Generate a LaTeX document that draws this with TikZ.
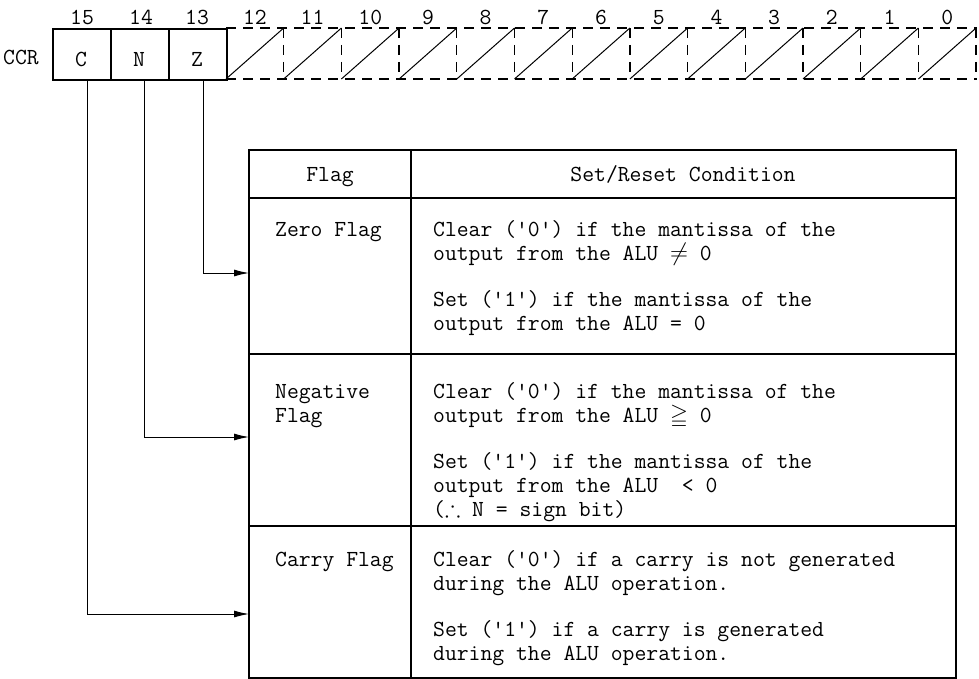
\documentclass[tikz,border=0pt]{standalone}
\usepackage{fontspec}
\usepackage{amssymb}
\usetikzlibrary{arrows.meta}
\begin{document}
\begin{tikzpicture}[x=1pt,y=-1pt,
  every node/.style={font=\ttfamily\fontsize{23}{24}\selectfont, inner sep=0pt},
  txt/.style={anchor=base west, align=left},
  num/.style={anchor=base},
  regbox/.style={draw, line width=1.6pt, minimum width=58pt, minimum height=51pt, anchor=north west},
  dashline/.style={line width=1.3pt, dash pattern=on 10pt off 7pt},
  diag/.style={line width=1pt},
  tab/.style={line width=1.4pt},
  arr/.style={line width=1pt, -{Latex[length=15pt,width=7pt]}}
]
\useasboundingbox (0,0) rectangle (979,679);

% register
\node[anchor=base west] (ccr) at (3,65) {CCR};
\node[regbox] (C) at (52,28) {};
\node[regbox] (N) at (110,28) {};
\node[regbox] (Z) at (168,28) {};
\node[num] (lc) at (81,67) {C};
\node[num] (ln) at (139,67) {N};
\node[num] (lz) at (197,67) {Z};
\node[num] (b15) at (82,25) {15};
\node[num] (b14) at (141,25) {14};
\node[num] (b13) at (197,25) {13};

\draw[dashline] (226,28) -- (977,28);
\draw[dashline] (226,79) -- (977,79);
\foreach \i in {0,...,12}{
  \pgfmathsetmacro{\xl}{226+\i*57.7}
  \pgfmathsetmacro{\xr}{226+(\i+1)*57.7}
  \pgfmathtruncatemacro{\b}{12-\i}
  \draw[dashline] (\xr,28) -- (\xr,79);
  \draw[diag] (\xl,79) -- (\xr,28);
  \node[num] (b\b) at ({(\xl+\xr)/2},25) {\b};
}

% table
\draw[tab] (249,150) rectangle (956,678);
\draw[tab] (249,198) -- (956,198);
\draw[tab] (249,354) -- (956,354);
\draw[tab] (249,526) -- (956,526);
\draw[tab] (411,150) -- (411,678);

\node[num] (hflag) at (330,182) {Flag};
\node[num] (hcond) at (683,182) {Set/Reset Condition};

% Zero row
\node[txt] (zf) at (275,236) {Zero Flag};
\node[txt] (z1) at (433,260) {Clear ('0') if the mantissa of the\\output from the ALU $\neq$ 0};
\node[txt] (z2) at (433,330) {Set ('1') if the mantissa of the\\output from the ALU = 0};

% Negative row
\node[txt] (nf) at (275,422) {Negative\\Flag};
\node[txt] (n1) at (433,422) {Clear ('0') if the mantissa of the\\output from the ALU $\geqq$ 0};
\node[txt] (n2) at (433,516) {Set ('1') if the mantissa of the\\output from the ALU~ < 0\\($\therefore$ N = sign bit)};

% Carry row
\node[txt] (cf) at (275,566) {Carry Flag};
\node[txt] (c1) at (433,590) {Clear ('0') if a carry is not generated\\during the ALU operation.};
\node[txt] (c2) at (433,660) {Set ('1') if a carry is generated\\during the ALU operation.};

% arrows
\coordinate (zin) at (249,273);
\coordinate (nin) at (249,437);
\coordinate (cin) at (249,614);
\draw[arr] ([xshift=6pt]Z.south) |- (zin);
\draw[arr] ([xshift=5pt]N.south) |- (nin);
\draw[arr] ([xshift=6pt]C.south) |- (cin);
\end{tikzpicture}
\end{document}
